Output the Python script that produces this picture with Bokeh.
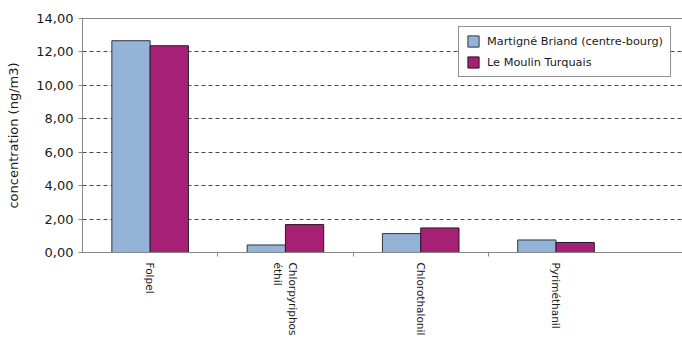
import math
from bokeh.plotting import figure
from bokeh.models import (ColumnDataSource, Range1d, FixedTicker, LinearAxis, Legend, LegendItem)
from bokeh.embed import file_html
from bokeh.resources import INLINE

categories = ["Folpel", "Chlorpyriphos\néthil", "Chlorothalonil", "Pyriméthanil"]
series_names = ["Martigné Briand (centre-bourg)", "Le Moulin Turquais"]
martigne = [12.67, 0.45, 1.13, 0.75]
moulin = [12.37, 1.67, 1.47, 0.60]
y_ticks = [0, 2, 4, 6, 8, 10, 12, 14]
y_tick_labels = ["0,00", "2,00", "4,00", "6,00", "8,00", "10,00", "12,00", "14,00"]
y_label = "concentration (ng/m3)"

FONT = "DejaVu Sans"
BLUE = "#95B3D7"
PURPLE = "#A62176"

centers = [i + 0.5 for i in range(len(categories))]
boundaries = [i + 1.0 for i in range(len(categories) - 1)]
bw = 0.283

src1 = ColumnDataSource(dict(x=[c - bw / 2 for c in centers], top=martigne))
src2 = ColumnDataSource(dict(x=[c + bw / 2 for c in centers], top=moulin))

p = figure(width=682, height=338, output_backend="svg", toolbar_location=None,
           x_range=Range1d(0, 4.435), y_range=Range1d(0, 14),
           min_border_left=82, min_border_right=0, min_border_top=18, min_border_bottom=85)
p.outline_line_color = None
p.background_fill_color = "white"

r1 = p.vbar(x="x", top="top", bottom=0, width=bw, source=src1,
            fill_color=BLUE, line_color="#2e3440", line_width=1)
r2 = p.vbar(x="x", top="top", bottom=0, width=bw, source=src2,
            fill_color=PURPLE, line_color="#2a1a24", line_width=1)

# x axis
xa = p.xaxis[0]
xa.ticker = FixedTicker(ticks=centers, minor_ticks=boundaries)
xa.major_label_overrides = {c: lab for c, lab in zip(centers, categories)}
xa.major_label_orientation = -math.pi / 2
xa.major_tick_line_color = None
xa.minor_tick_in = 0
xa.minor_tick_out = 4
xa.minor_tick_line_color = "#868686"
xa.axis_line_color = "#868686"
xa.major_label_text_font = FONT
xa.major_label_text_font_size = "10.5px"
xa.major_label_text_line_height = 1.2
xa.major_label_text_color = "#1a1a1a"
xa.major_label_standoff = 4

# y axis
ya = p.yaxis[0]
ya.ticker = FixedTicker(ticks=y_ticks)
ya.major_label_overrides = {t: lab for t, lab in zip(y_ticks, y_tick_labels)}
ya.minor_tick_line_color = None
ya.major_tick_in = 0
ya.major_tick_out = 4
ya.major_tick_line_color = "#868686"
ya.axis_line_color = "#868686"
ya.major_label_text_font = FONT
ya.major_label_text_font_size = "13px"
ya.major_label_text_color = "#1a1a1a"
ya.major_label_standoff = 5
ya.axis_label = y_label
ya.axis_label_text_font = FONT
ya.axis_label_text_font_size = "13px"
ya.axis_label_text_font_style = "normal"
ya.axis_label_text_color = "#1a1a1a"
ya.axis_label_standoff = 12

# top border line
top = LinearAxis(ticker=FixedTicker(ticks=[]), axis_line_color="#868686",
                 major_label_text_font_size="0px", major_tick_line_color=None,
                 minor_tick_line_color=None)
p.add_layout(top, "above")

p.xgrid.grid_line_color = None
p.ygrid.ticker = FixedTicker(ticks=[2, 4, 6, 8, 10, 12])
p.ygrid.grid_line_color = "#4a4a4a"
p.ygrid.grid_line_dash = "4 3"
p.ygrid.grid_line_width = 1

legend = Legend(items=[LegendItem(label=series_names[0], renderers=[r1]),
                       LegendItem(label=series_names[1], renderers=[r2])],
                location=(376, 175))
legend.label_text_font = FONT
legend.label_text_font_size = "11.3px"
legend.label_text_color = "#1a1a1a"
legend.glyph_width = 14
legend.glyph_height = 14
legend.label_height = 14
legend.spacing = 7
legend.padding = 7
legend.margin = 0
legend.label_standoff = 7
legend.border_line_color = "#222222"
legend.border_line_width = 1
legend.background_fill_alpha = 1
p.add_layout(legend, "center")

open("out.html", "w").write(file_html(p, INLINE))
